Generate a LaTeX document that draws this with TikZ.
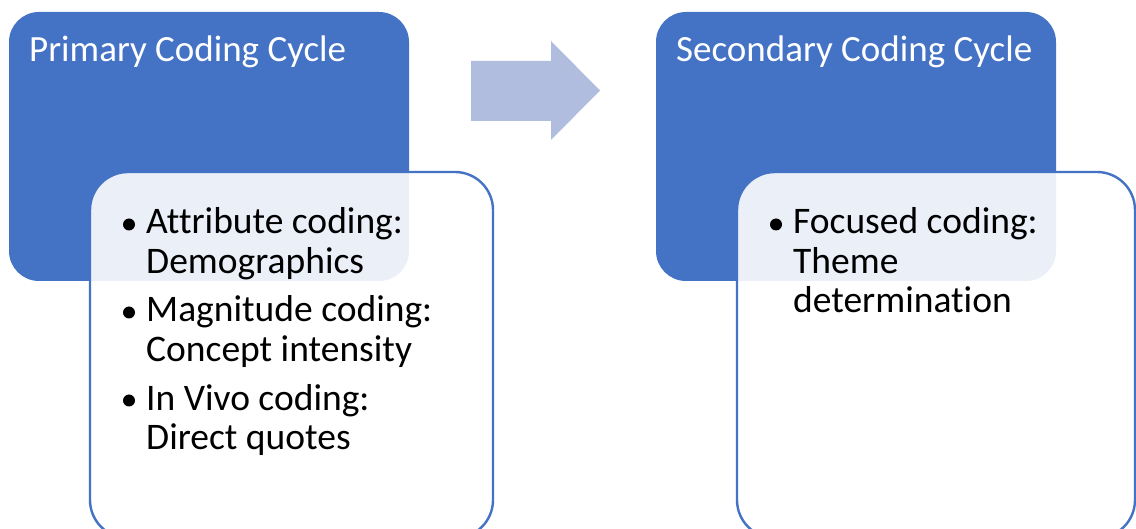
\documentclass[tikz,border=0pt]{standalone}
\usepackage{fontspec}
\setmainfont{Carlito}[Ligatures={NoCommon}]
\definecolor{mainblue}{RGB}{68,114,196}
\definecolor{arrowblue}{RGB}{176,189,223}
\begin{document}
\begin{tikzpicture}[x=1pt,y=-1pt,
  headbox/.style={fill=mainblue, rounded corners=30pt},
  listbox/.style={fill=white, fill opacity=0.89, draw=mainblue, draw opacity=1, line width=2.4pt, rounded corners=38pt},
  headtext/.style={anchor=base west, inner sep=0pt, text=white, font=\fontsize{37}{40}\selectfont},
  itemtext/.style={anchor=base west, inner sep=0pt, text=black, font=\fontsize{37.5}{40}\selectfont},
  bullet/.style={circle, fill=black, inner sep=0pt, minimum size=12pt}
]
\clip (0,0) rectangle (1136,529);
\fill[white] (0,0) rectangle (1136,529);
% left group
\path[headbox] (9,12) rectangle (409,281);
\node[headtext] (h1) at (29,62) {Primary Coding Cycle};
\path[listbox] (90,172) rectangle (493,538);
\node[bullet] (b1) at (129,224.5) {};
\node[itemtext] (t1) at (146,234) {Attribute coding:};
\node[itemtext] (t2) at (146,273.5) {Demographics};
\node[bullet] (b2) at (129,312.5) {};
\node[itemtext] (t3) at (146,322) {Magnitude coding:};
\node[itemtext] (t4) at (146,361.5) {Concept intensity};
\node[bullet] (b3) at (129,400.5) {};
\node[itemtext] (t5) at (146,410) {In Vivo coding:};
\node[itemtext] (t6) at (146,449.5) {Direct quotes};
% arrow
\fill[arrowblue] (471,61) -- (551,61) -- (551,41) -- (600,90.5) -- (551,140) -- (551,121) -- (471,121) -- cycle;
% right group
\path[headbox] (656,12) rectangle (1056,281);
\node[headtext] (h2) at (676,62) {Secondary Coding Cycle};
\path[listbox] (737,172) rectangle (1135,538);
\node[bullet] (b4) at (776,224.5) {};
\node[itemtext] (t7) at (793,234) {Focused coding:};
\node[itemtext] (t8) at (793,273.5) {Theme};
\node[itemtext] (t9) at (793,313) {determination};
\end{tikzpicture}
\end{document}
